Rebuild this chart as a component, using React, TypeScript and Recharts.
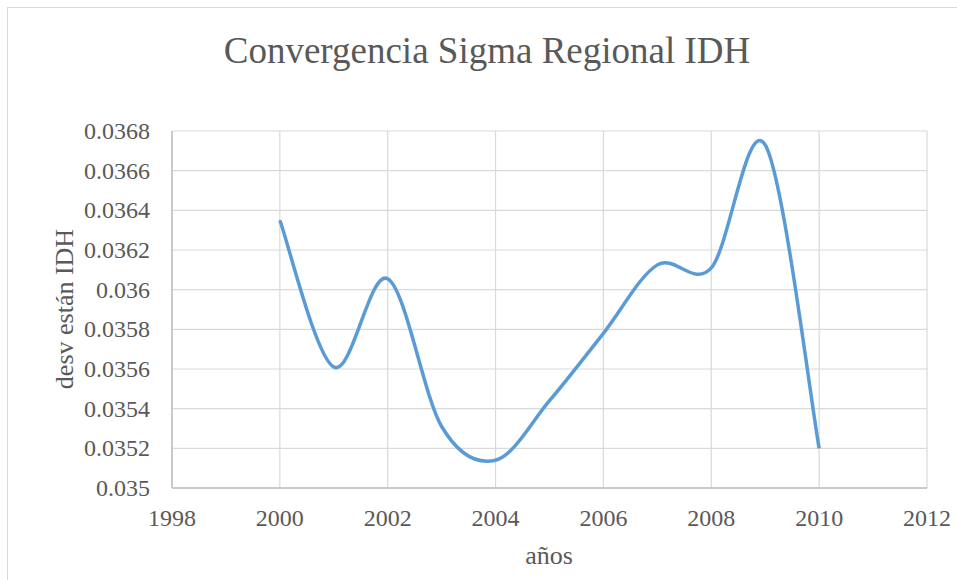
import { LineChart, Line, XAxis, YAxis, CartesianGrid } from 'recharts';

const years = [2000, 2001, 2002, 2003, 2004, 2005, 2006, 2007, 2008, 2009, 2010];
const desvIdh = [
  0.03635, 0.03561, 0.036055, 0.03531, 0.03514, 0.03544, 0.03578, 0.036125, 0.03611, 0.03673,
  0.0352,
];
const xTicks = [1998, 2000, 2002, 2004, 2006, 2008, 2010, 2012];
const yTicks = [
  0.035, 0.0352, 0.0354, 0.0356, 0.0358, 0.036, 0.0362, 0.0364, 0.0366, 0.0368,
];

const data = years.map((year, i) => ({ year, value: desvIdh[i] }));

const FONT = '"Liberation Serif", "Times New Roman", serif';
const TEXT = '#595959';

// smoothed line like the spreadsheet one: bezier segments with 1/6 tangents
const smoothCurve = (context: any) => {
  let pts: number[][] = [];
  return {
    areaStart() {},
    areaEnd() {},
    lineStart() {
      pts = [];
    },
    point(x: number, y: number) {
      pts.push([+x, +y]);
    },
    lineEnd() {
      if (!pts.length) return;
      context.moveTo(pts[0][0], pts[0][1]);
      for (let i = 0; i < pts.length - 1; i++) {
        const p0 = pts[i - 1] || pts[i];
        const p1 = pts[i];
        const p2 = pts[i + 1];
        const p3 = pts[i + 2] || p2;
        context.bezierCurveTo(
          p1[0] + (p2[0] - p0[0]) / 6,
          p1[1] + (p2[1] - p0[1]) / 6,
          p2[0] - (p3[0] - p1[0]) / 6,
          p2[1] - (p3[1] - p1[1]) / 6,
          p2[0],
          p2[1],
        );
      }
    },
  };
};

const fmt = (v: number) => String(Number(v.toFixed(4)));

const tickStyle = { fontFamily: FONT, fontSize: 24, fill: TEXT };

const XTick = ({ x, y, payload }: any) => (
  <text x={x} y={y + 38} textAnchor="middle" style={tickStyle}>
    {payload.value}
  </text>
);

const YTick = ({ x, y, payload }: any) => (
  <text x={x - 22} y={y + 8} textAnchor="end" style={tickStyle}>
    {fmt(payload.value)}
  </text>
);

export default function App() {
  return (
    <div
      style={{
        position: 'absolute',
        left: 0,
        top: 0,
        width: 957,
        height: 580,
        overflow: 'hidden',
        background: '#fff',
        fontFamily: FONT,
      }}
    >
      <div
        style={{
          position: 'absolute',
          left: 7,
          top: 7,
          width: 980,
          height: 600,
          border: '1px solid #d9d9d9',
        }}
      />
      <LineChart
        width={957}
        height={580}
        data={data}
        margin={{ top: 131, right: 30, bottom: 52, left: 0 }}
        style={{ position: 'absolute', left: 0, top: 0, fontFamily: FONT }}
      >
        <CartesianGrid stroke="#d9d9d9" strokeWidth={1.2} />
        <XAxis
          dataKey="year"
          type="number"
          domain={[1998, 2012]}
          ticks={xTicks}
          height={40}
          tickLine={false}
          tickSize={0}
          tickMargin={0}
          axisLine={{ stroke: '#bfbfbf', strokeWidth: 1.5 }}
          tick={XTick}
        />
        <YAxis
          type="number"
          domain={[0.035, 0.0368]}
          ticks={yTicks}
          width={172}
          tickLine={false}
          tickSize={0}
          tickMargin={0}
          axisLine={{ stroke: '#bfbfbf', strokeWidth: 1.5 }}
          tick={YTick}
        />
        <Line
          dataKey="value"
          type={smoothCurve as any}
          stroke="#5b9bd5"
          strokeWidth={3.5}
          dot={false}
          isAnimationActive={false}
        />
      </LineChart>
      <svg
        width={957}
        height={580}
        style={{ position: 'absolute', left: 0, top: 0, pointerEvents: 'none' }}
      >
        <text x={487} y={63} textAnchor="middle" fill={TEXT} fontSize={37} fontFamily={FONT}>
          Convergencia Sigma Regional IDH
        </text>
        <text x={549} y={564} textAnchor="middle" fill={TEXT} fontSize={26} fontFamily={FONT}>
          años
        </text>
        <text
          transform="translate(73, 309) rotate(-90)"
          textAnchor="middle"
          fill={TEXT}
          fontSize={26}
          fontFamily={FONT}
        >
          desv están IDH
        </text>
      </svg>
    </div>
  );
}
